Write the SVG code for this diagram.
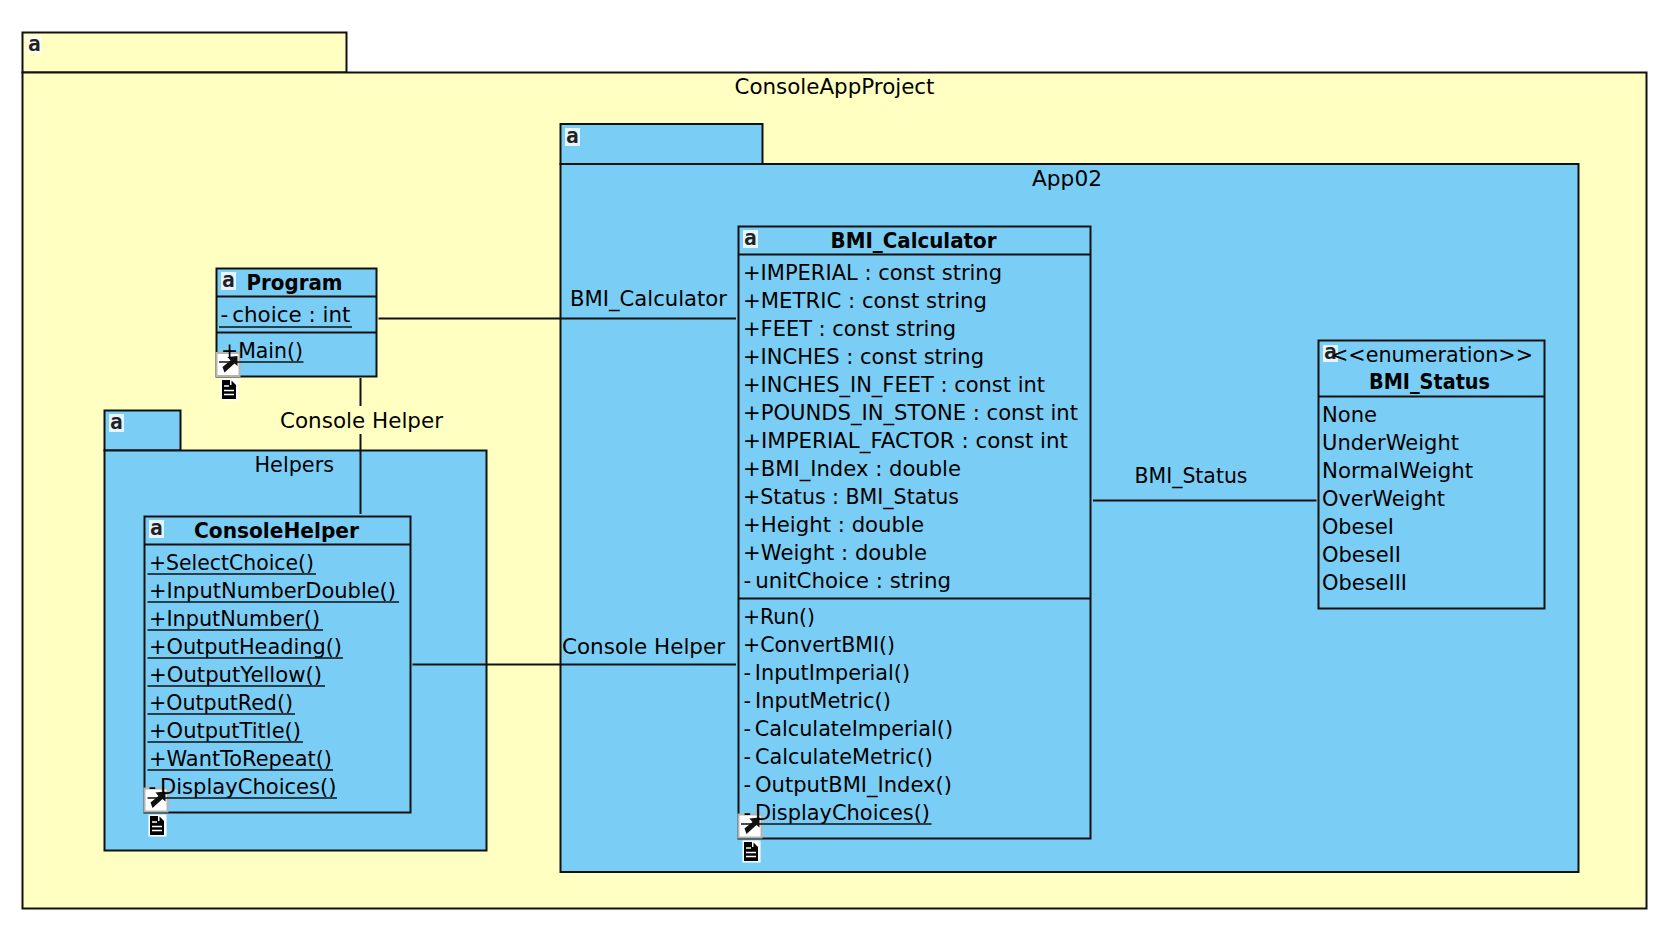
<svg xmlns="http://www.w3.org/2000/svg" width="1674" height="940" viewBox="0 0 1674 940">
<style>
.y{fill:#ffffc2;stroke:#111;stroke-width:2}
.b{fill:#7acef5;stroke:#111;stroke-width:2}
.l{stroke:#111;stroke-width:2;fill:none}
.u{stroke:#111;stroke-width:1.6;fill:none}
text{font-family:"DejaVu Sans","Liberation Sans",sans-serif;font-size:21.5px;fill:#000}
.t{font-weight:bold}
.i{font-family:"DejaVu Sans Mono","Liberation Mono",monospace;font-size:21px;font-weight:bold;fill:#222}
.h{fill:#fff;fill-opacity:.8}
.m{letter-spacing:4px}
</style>
<defs>
<g id="link"><rect x="0" y="0" width="23" height="23" fill="#fff" stroke="#b4b4b4" stroke-width="2"/><path d="M21 3L21 13L18 10.500L8 19.500L6 14L14 7.500L11 4Z" fill="#111"/></g>
<g id="note"><rect x="-1.500" y="-1.500" width="18" height="22" fill="#fff"/><path d="M0 0H8V5H14V19H0Z" fill="#000"/><path d="M9.500 0.500L14 5H9.500Z" fill="#000"/><path d="M2 6H7M2 10.500H12M2 14.500H12" stroke="#fff" stroke-width="1.400"/></g>
</defs>
<g id="pkg-ConsoleAppProject">
<rect class="y" x="22.500" y="32.500" width="324" height="40"/>
<rect class="y" x="22.500" y="72.500" width="1624" height="836"/>
<rect class="h" x="27" y="36" width="14" height="18"/><text class="i" x="28" y="51">a</text>
<text x="734.500" y="93.500" textLength="200" lengthAdjust="spacingAndGlyphs">ConsoleAppProject</text>
</g>
<g id="pkg-App02">
<rect class="b" x="560.500" y="124" width="202" height="40"/>
<rect class="b" x="560.500" y="164" width="1018" height="708"/>
<rect class="h" x="565" y="128" width="15" height="18"/><text class="i" x="566" y="143">a</text>
<text x="1032" y="185.500" textLength="70" lengthAdjust="spacingAndGlyphs">App02</text>
</g>
<g id="pkg-Helpers">
<rect class="b" x="104.500" y="410.500" width="76" height="40"/>
<rect class="b" x="104.500" y="450.500" width="382" height="400"/>
<rect class="h" x="109" y="414" width="15" height="18"/><text class="i" x="110" y="429">a</text>
<text x="254.500" y="471.500" textLength="79.500" lengthAdjust="spacingAndGlyphs">Helpers</text>
</g>
<g id="connectors">
<path class="l" d="M378.500 318.500H736"/>
<path class="l" d="M360.500 378V406M360.500 434V514"/>
<path class="l" d="M412.500 664.500H736"/>
<path class="l" d="M1093 500.500H1316.500"/>
<text x="570" y="305.500" textLength="157" lengthAdjust="spacingAndGlyphs">BMI_Calculator</text>
<text x="280" y="427.500" textLength="163" lengthAdjust="spacingAndGlyphs">Console Helper</text>
<text x="562" y="653.500" textLength="163" lengthAdjust="spacingAndGlyphs">Console Helper</text>
<text x="1134.500" y="482.500" textLength="113" lengthAdjust="spacingAndGlyphs">BMI_Status</text>
</g>
<g id="class-Program">
<rect class="b" x="216.500" y="268.500" width="160" height="108"/>
<path class="l" d="M216.500 296.500H376.500M216.500 332.500H376.500"/>
<rect class="h" x="221" y="272" width="15" height="18"/><text class="i" x="222" y="287">a</text>
<use href="#link" x="216.500" y="353"/>
<use href="#note" x="222" y="380"/>
<text class="t" x="246.500" y="289.500" textLength="96" lengthAdjust="spacingAndGlyphs">Program</text>
<text x="220.500" y="321.500" textLength="130" lengthAdjust="spacingAndGlyphs"><tspan class="m">-</tspan>choice : int</text>
<path class="u" d="M219 327H352"/>
<text x="221" y="357.500" textLength="82" lengthAdjust="spacingAndGlyphs">+Main()</text>
<path class="u" d="M219 362H303.500"/>
</g>
<g id="class-ConsoleHelper">
<rect class="b" x="144.500" y="516.500" width="266" height="296"/>
<path class="l" d="M144.500 544.500H410.500"/>
<rect class="h" x="149" y="520" width="15" height="18"/><text class="i" x="150" y="535">a</text>
<use href="#link" x="144.500" y="788.500"/>
<use href="#note" x="150" y="816"/>
<text class="t" x="194" y="537.500" textLength="165" lengthAdjust="spacingAndGlyphs">ConsoleHelper</text>
<text x="149" y="569.500" textLength="165" lengthAdjust="spacingAndGlyphs">+SelectChoice()</text>
<text x="149" y="597.500" textLength="247" lengthAdjust="spacingAndGlyphs">+InputNumberDouble()</text>
<text x="149" y="625.500" textLength="171" lengthAdjust="spacingAndGlyphs">+InputNumber()</text>
<text x="149" y="653.500" textLength="193" lengthAdjust="spacingAndGlyphs">+OutputHeading()</text>
<text x="149" y="681.500" textLength="173" lengthAdjust="spacingAndGlyphs">+OutputYellow()</text>
<text x="149" y="709.500" textLength="144" lengthAdjust="spacingAndGlyphs">+OutputRed()</text>
<text x="149" y="737.500" textLength="152" lengthAdjust="spacingAndGlyphs">+OutputTitle()</text>
<text x="149" y="765.500" textLength="183" lengthAdjust="spacingAndGlyphs">+WantToRepeat()</text>
<text x="148.500" y="793.500" textLength="188" lengthAdjust="spacingAndGlyphs"><tspan class="m">-</tspan>DisplayChoices()</text>
<path class="u" d="M147.500 574H316M147.500 602H399M147.500 630H323M147.500 658H343M147.500 686H325M147.500 714H295M147.500 742H303M147.500 770H333M147.500 798H337"/>
</g>
<g id="class-BMI_Calculator">
<rect class="b" x="738.500" y="226.500" width="352" height="612"/>
<path class="l" d="M738.500 254.500H1090.500M738.500 598.500H1090.500"/>
<rect class="h" x="743" y="230" width="15" height="18"/><text class="i" x="744" y="245">a</text>
<use href="#link" x="738.500" y="814.500"/>
<use href="#note" x="744" y="842"/>
<text class="t" x="830.500" y="247.500" textLength="166" lengthAdjust="spacingAndGlyphs">BMI_Calculator</text>
<text x="743" y="279.500" textLength="259" lengthAdjust="spacingAndGlyphs">+IMPERIAL : const string</text>
<text x="743" y="307.500" textLength="244" lengthAdjust="spacingAndGlyphs">+METRIC : const string</text>
<text x="743" y="335.500" textLength="213" lengthAdjust="spacingAndGlyphs">+FEET : const string</text>
<text x="743" y="363.500" textLength="241" lengthAdjust="spacingAndGlyphs">+INCHES : const string</text>
<text x="743" y="391.500" textLength="302" lengthAdjust="spacingAndGlyphs">+INCHES_IN_FEET : const int</text>
<text x="743" y="419.500" textLength="335" lengthAdjust="spacingAndGlyphs">+POUNDS_IN_STONE : const int</text>
<text x="743" y="447.500" textLength="325" lengthAdjust="spacingAndGlyphs">+IMPERIAL_FACTOR : const int</text>
<text x="743" y="475.500" textLength="218" lengthAdjust="spacingAndGlyphs">+BMI_Index : double</text>
<text x="743" y="503.500" textLength="216" lengthAdjust="spacingAndGlyphs">+Status : BMI_Status</text>
<text x="743" y="531.500" textLength="181" lengthAdjust="spacingAndGlyphs">+Height : double</text>
<text x="743" y="559.500" textLength="184" lengthAdjust="spacingAndGlyphs">+Weight : double</text>
<text x="743.500" y="587.500" textLength="207.500" lengthAdjust="spacingAndGlyphs"><tspan class="m">-</tspan>unitChoice : string</text>
<text x="743" y="623.500" textLength="72" lengthAdjust="spacingAndGlyphs">+Run()</text>
<text x="743" y="651.500" textLength="152" lengthAdjust="spacingAndGlyphs">+ConvertBMI()</text>
<text x="743.500" y="679.500" textLength="166.500" lengthAdjust="spacingAndGlyphs"><tspan class="m">-</tspan>InputImperial()</text>
<text x="743.500" y="707.500" textLength="147.500" lengthAdjust="spacingAndGlyphs"><tspan class="m">-</tspan>InputMetric()</text>
<text x="743.500" y="735.500" textLength="209.500" lengthAdjust="spacingAndGlyphs"><tspan class="m">-</tspan>CalculateImperial()</text>
<text x="743.500" y="763.500" textLength="189.500" lengthAdjust="spacingAndGlyphs"><tspan class="m">-</tspan>CalculateMetric()</text>
<text x="743.500" y="791.500" textLength="208.500" lengthAdjust="spacingAndGlyphs"><tspan class="m">-</tspan>OutputBMI_Index()</text>
<text x="743.500" y="819.500" textLength="186.500" lengthAdjust="spacingAndGlyphs"><tspan class="m">-</tspan>DisplayChoices()</text>
<path class="u" d="M741 824H931.500"/>
</g>
<g id="class-BMI_Status">
<rect class="b" x="1318.500" y="340.500" width="226" height="268"/>
<path class="l" d="M1318.500 396.500H1544.500"/>
<rect class="h" x="1323" y="345" width="15" height="17"/><text class="i" x="1324" y="359">a</text>
<text x="1331" y="361.500" textLength="202" lengthAdjust="spacingAndGlyphs">&lt;&lt;enumeration&gt;&gt;</text>
<text class="t" x="1369" y="388.500" textLength="121" lengthAdjust="spacingAndGlyphs">BMI_Status</text>
<text x="1322" y="421.500" textLength="55" lengthAdjust="spacingAndGlyphs">None</text>
<text x="1322" y="449.500" textLength="137" lengthAdjust="spacingAndGlyphs">UnderWeight</text>
<text x="1322" y="477.500" textLength="151" lengthAdjust="spacingAndGlyphs">NormalWeight</text>
<text x="1322" y="505.500" textLength="123" lengthAdjust="spacingAndGlyphs">OverWeight</text>
<text x="1322" y="533.500" textLength="72" lengthAdjust="spacingAndGlyphs">ObeseI</text>
<text x="1322" y="561.500" textLength="79" lengthAdjust="spacingAndGlyphs">ObeseII</text>
<text x="1322" y="589.500" textLength="85" lengthAdjust="spacingAndGlyphs">ObeseIII</text>
</g>
</svg>
